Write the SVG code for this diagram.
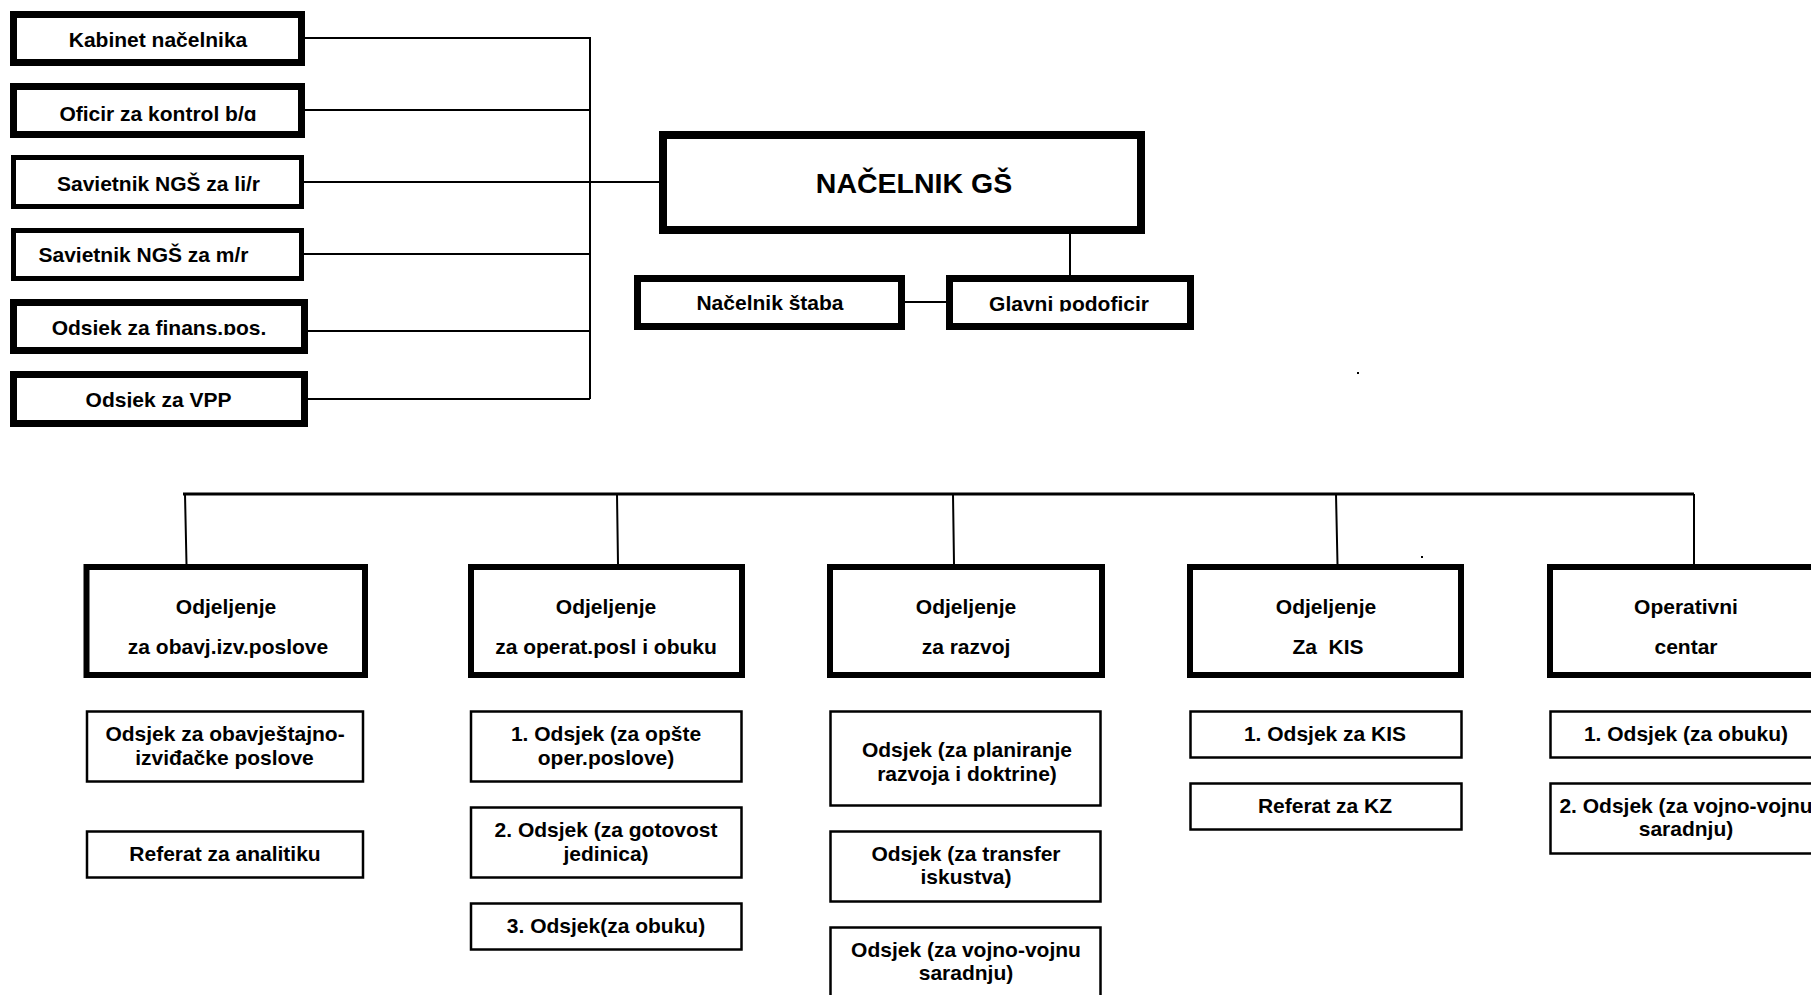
<svg xmlns="http://www.w3.org/2000/svg" width="1811" height="995" viewBox="0 0 1811 995">
<style>
.bg{fill:#fff}
.thick{fill:#fff;stroke:#000;stroke-width:7}
.mid{fill:#fff;stroke:#000;stroke-width:5}
.dept{fill:#fff;stroke:#000;stroke-width:6}
.sub{fill:#fff;stroke:#000;stroke-width:2.5}
.t{font-family:"Liberation Sans",Arial,sans-serif;font-weight:bold;font-size:21px;fill:#000;text-anchor:middle}
.big{font-size:28.5px}
.ln{stroke:#000;stroke-width:2;fill:none}
.bus{stroke:#000;stroke-width:3;fill:none}
</style>
<defs>
<clipPath id="c-oficir" clipPathUnits="userSpaceOnUse"><rect x="0" y="80" width="320" height="41"/></clipPath>
<clipPath id="c-sav1" clipPathUnits="userSpaceOnUse"><rect x="0" y="150" width="320" height="41"/></clipPath>
<clipPath id="c-sav2" clipPathUnits="userSpaceOnUse"><rect x="0" y="222" width="320" height="40.5"/></clipPath>
<clipPath id="c-fin" clipPathUnits="userSpaceOnUse"><rect x="0" y="295" width="320" height="40"/></clipPath>
<clipPath id="c-vpp" clipPathUnits="userSpaceOnUse"><rect x="0" y="367" width="320" height="40.5"/></clipPath>
<clipPath id="c-glavni" clipPathUnits="userSpaceOnUse"><rect x="940" y="270" width="260" height="41.5"/></clipPath>
</defs>
<rect class="bg" x="0" y="0" width="1811" height="995"/>

<g id="connectors">
<path class="ln" d="M305 38H590V399M305 110H590M304 182H659M304 254H590M308 331H590M308 399H590"/>
<path class="ln" d="M905 302H946M1070 234V275"/>
<path class="bus" d="M183 494H1694"/>
<path class="ln" d="M185 494L186.5 564M617 494L618 564M953 494L954 564M1336 494L1337.5 564M1694 494V564"/>
</g>

<g id="kabinet"><rect class="thick" x="13.5" y="14.5" width="288" height="48"/><text class="t" x="158" y="47">Kabinet načelnika</text></g>
<g id="oficir"><rect class="thick" x="13.5" y="86.5" width="288" height="48"/><text class="t" x="158" y="121" clip-path="url(#c-oficir)">Oficir za kontrol b/g</text></g>
<g id="savjetnik-ljr"><rect class="mid" x="13.5" y="157.5" width="288" height="49"/><text class="t" x="158.5" y="190.5" clip-path="url(#c-sav1)">Savjetnik NGŠ za lj/r</text></g>
<g id="savjetnik-mr"><rect class="mid" x="13.5" y="230.5" width="288" height="48"/><text class="t" x="143.5" y="262" clip-path="url(#c-sav2)">Savjetnik NGŠ za m/r</text></g>
<g id="finans"><rect class="thick" x="13.5" y="302.5" width="291" height="48"/><text class="t" x="159" y="334.5" clip-path="url(#c-fin)">Odsjek za finans.pos.</text></g>
<g id="vpp"><rect class="thick" x="13.5" y="374.5" width="291" height="49"/><text class="t" x="158.5" y="407" clip-path="url(#c-vpp)">Odsjek za VPP</text></g>

<g id="nacelnik-gs"><rect class="thick" style="stroke-width:8" x="663" y="135" width="478" height="95"/><text class="t big" x="914" y="193">NAČELNIK GŠ</text></g>
<g id="nacelnik-staba"><rect class="thick" x="637.5" y="278.5" width="264" height="48"/><text class="t" x="770" y="310">Načelnik štaba</text></g>
<g id="glavni-podoficir"><rect class="thick" x="949.5" y="278.5" width="241" height="48"/><text class="t" x="1069" y="311" clip-path="url(#c-glavni)">Glavni podoficir</text></g>

<rect x="1357" y="372" width="2" height="2" fill="#000"/>
<rect x="1421" y="556" width="2" height="2" fill="#000"/>

<g id="odj-obavj"><rect class="dept" x="86.5" y="567" width="278.5" height="108"/><text class="t" x="226" y="614">Odjeljenje</text><text class="t" x="228" y="654">za obavj.izv.poslove</text></g>
<g id="odj-operat"><rect class="dept" x="471" y="567" width="271" height="108"/><text class="t" x="606" y="614">Odjeljenje</text><text class="t" x="606" y="654">za operat.posl i obuku</text></g>
<g id="odj-razvoj"><rect class="dept" x="830" y="567" width="272" height="108"/><text class="t" x="966" y="614">Odjeljenje</text><text class="t" x="966" y="654">za razvoj</text></g>
<g id="odj-kis"><rect class="dept" x="1190" y="567" width="271" height="108"/><text class="t" x="1326" y="614">Odjeljenje</text><text class="t" x="1328" y="654" xml:space="preserve">Za  KIS</text></g>
<g id="operativni-centar"><rect class="dept" x="1550" y="567" width="271" height="108"/><text class="t" x="1686" y="614">Operativni</text><text class="t" x="1686" y="654">centar</text></g>

<g id="s-obavj"><rect class="sub" x="87" y="711.5" width="276" height="70"/><text class="t" x="225" y="741">Odsjek za obavještajno-</text><text class="t" x="224.5" y="765">izviđačke poslove</text></g>
<g id="s-analitika"><rect class="sub" x="87" y="831.5" width="276" height="46"/><text class="t" x="225" y="861">Referat za analitiku</text></g>

<g id="s-opste"><rect class="sub" x="471" y="711.5" width="270.5" height="70"/><text class="t" x="606" y="741">1. Odsjek (za opšte</text><text class="t" x="606" y="765">oper.poslove)</text></g>
<g id="s-gotovost"><rect class="sub" x="471" y="807.5" width="270.5" height="70"/><text class="t" x="606" y="837">2. Odsjek (za gotovost</text><text class="t" x="606" y="861">jedinica)</text></g>
<g id="s-obuka3"><rect class="sub" x="471" y="903.5" width="270.5" height="46"/><text class="t" x="606" y="933">3. Odsjek(za obuku)</text></g>

<g id="s-planiranje"><rect class="sub" x="830.5" y="711.5" width="270" height="94"/><text class="t" x="967" y="757">Odsjek (za planiranje</text><text class="t" x="967" y="781">razvoja i doktrine)</text></g>
<g id="s-transfer"><rect class="sub" x="830.5" y="831.5" width="270" height="70"/><text class="t" x="966" y="861">Odsjek (za transfer</text><text class="t" x="966" y="884">iskustva)</text></g>
<g id="s-vvs"><rect class="sub" x="830.5" y="927.5" width="270" height="80"/><text class="t" x="966" y="957">Odsjek (za vojno-vojnu</text><text class="t" x="966" y="980">saradnju)</text></g>

<g id="s-kis1"><rect class="sub" x="1190.5" y="711.5" width="271" height="46"/><text class="t" x="1325" y="741">1. Odsjek za KIS</text></g>
<g id="s-kz"><rect class="sub" x="1190.5" y="783.5" width="271" height="46"/><text class="t" x="1325" y="813">Referat za KZ</text></g>

<g id="s-oc1"><rect class="sub" x="1550.5" y="711.5" width="272" height="46"/><text class="t" x="1686" y="741">1. Odsjek (za obuku)</text></g>
<g id="s-oc2"><rect class="sub" x="1550.5" y="783.5" width="272" height="70"/><text class="t" x="1686" y="813">2. Odsjek (za vojno-vojnu</text><text class="t" x="1686" y="836">saradnju)</text></g>
</svg>
